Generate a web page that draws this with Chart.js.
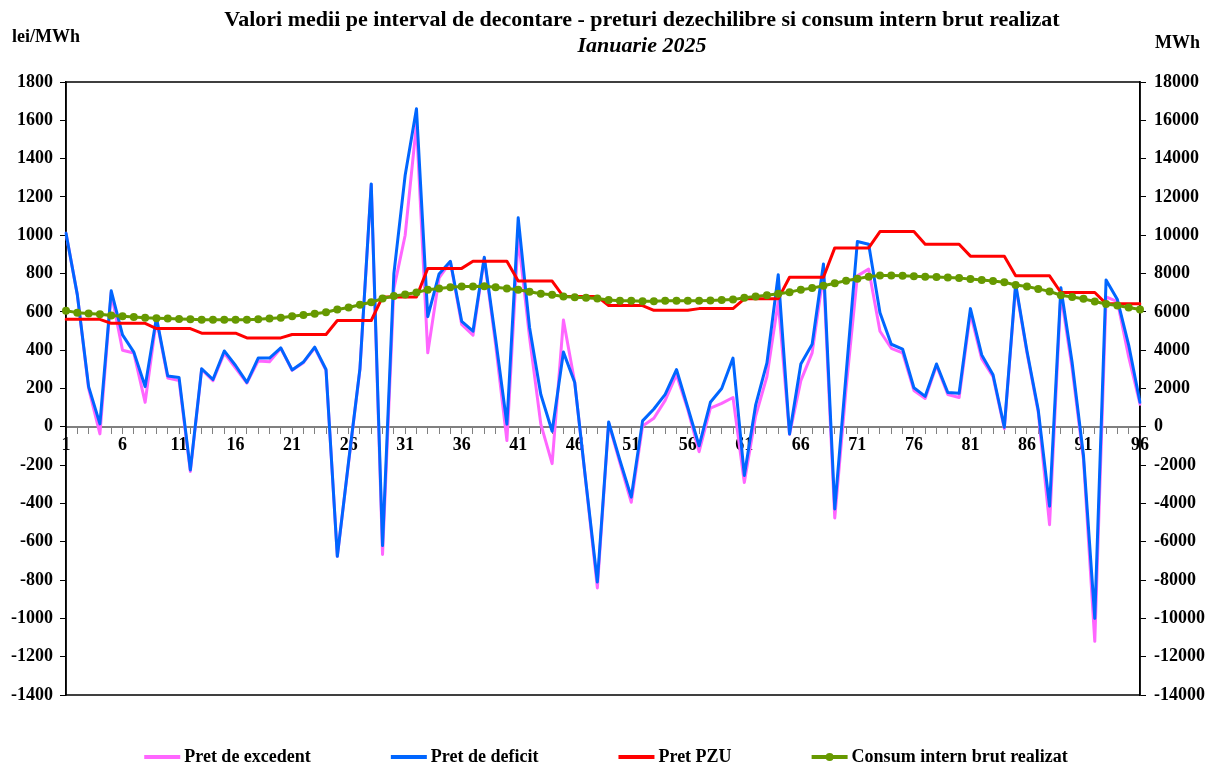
<!DOCTYPE html>
<html>
<head>
<meta charset="utf-8">
<title>Valori medii pe interval de decontare</title>
<script src="https://cdn.jsdelivr.net/npm/chart.js@4.4.1/dist/chart.umd.min.js"></script>
<style>
  html, body { margin: 0; padding: 0; background: #fff; }
  #wrap { width: 1212px; height: 766px; position: relative; }
</style>
</head>
<body>
<div id="wrap"><canvas id="chart_dezechilibre"></canvas></div>
<script>
'use strict';

// intervale de decontare (15 min)
var intervale = ['1','2','3','4','5','6','7','8','9','10','11','12','13','14','15','16',
    '17','18','19','20','21','22','23','24','25','26','27','28','29','30','31','32',
    '33','34','35','36','37','38','39','40','41','42','43','44','45','46','47','48',
    '49','50','51','52','53','54','55','56','57','58','59','60','61','62','63','64',
    '65','66','67','68','69','70','71','72','73','74','75','76','77','78','79','80',
    '81','82','83','84','85','86','87','88','89','90','91','92','93','94','95','96'];

// lei/MWh
var pret_excedent = [1010, 690, 200, -37, 700, 400, 385, 128, 560, 255, 241, -233, 300, 241, 385, 307,
    228, 344, 340, 410, 295, 335, 412, 295, -676, -185, 300, 1265, -666, 720, 1000, 1580,
    386, 777, 860, 534, 478, 880, 430, -72, 990, 468, 14, -192, 557, 231, -300, -841,
    20, -190, -394, 4, 45, 138, 272, 90, -130, 97, 122, 153, -291, 56, 262, 654,
    -40, 241, 386, 800, -476, 200, 788, 823, 499, 410, 386, 190, 148, 320, 169, 153,
    592, 355, 262, -10, 736, 386, 76, -511, 695, 303, -170, -1120, 678, 654, 365, 118];

var pret_deficit = [1010, 690, 210, 15, 710, 480, 390, 210, 570, 265, 258, -225, 303, 247, 396, 320,
    232, 359, 359, 412, 297, 338, 416, 299, -676, -180, 303, 1268, -620, 798, 1313, 1660,
    575, 798, 864, 551, 499, 885, 460, 14, 1091, 520, 169, -23, 390, 231, -295, -810,
    25, -175, -367, 31, 93, 169, 299, 101, -99, 128, 200, 359, -254, 113, 334, 794,
    -37, 328, 431, 850, -429, 272, 967, 953, 596, 431, 406, 204, 159, 328, 179, 175,
    617, 375, 272, -2, 746, 396, 87, -414, 726, 334, -150, -1000, 767, 664, 427, 128];

var pret_pzu = [561, 561, 561, 561, 540, 540, 540, 540, 513, 513, 513, 513, 489, 489, 489, 489,
    464, 464, 464, 464, 482, 482, 482, 482, 555, 555, 555, 555, 678, 678, 678, 678,
    827, 827, 827, 827, 864, 864, 864, 864, 761, 761, 761, 761, 680, 680, 680, 680,
    633, 633, 633, 633, 608, 608, 608, 608, 617, 617, 617, 617, 668, 668, 668, 668,
    781, 781, 781, 781, 934, 934, 934, 934, 1019, 1019, 1019, 1019, 953, 953, 953, 953,
    891, 891, 891, 891, 788, 788, 788, 788, 701, 701, 701, 701, 643, 643, 643, 643];

// MWh
var consum = [6060, 5960, 5920, 5880, 5810, 5770, 5730, 5690, 5670, 5650, 5630, 5610, 5590, 5590, 5590, 5590,
    5590, 5610, 5650, 5690, 5770, 5840, 5900, 5980, 6120, 6230, 6370, 6500, 6700, 6830, 6910, 7010,
    7160, 7220, 7280, 7320, 7320, 7340, 7280, 7220, 7160, 7050, 6950, 6890, 6800, 6760, 6740, 6700,
    6620, 6580, 6580, 6560, 6560, 6580, 6580, 6580, 6580, 6600, 6620, 6640, 6740, 6800, 6870, 6950,
    7030, 7160, 7240, 7360, 7490, 7630, 7730, 7840, 7900, 7900, 7880, 7860, 7840, 7820, 7800, 7770,
    7710, 7670, 7610, 7550, 7400, 7320, 7200, 7070, 6870, 6780, 6680, 6540, 6410, 6330, 6230, 6120];

var ticks_lei = [-1400, -1200, -1000, -800, -600, -400, -200, 0, 200, 400, 600, 800, 1000, 1200, 1400, 1600, 1800];
var ticks_mwh = [-14000, -12000, -10000, -8000, -6000, -4000, -2000, 0, 2000, 4000, 6000, 8000, 10000, 12000, 14000, 16000, 18000];

var titlu = ['Valori medii pe interval de decontare - preturi dezechilibre si consum intern brut realizat', 'Ianuarie 2025'];

var FONT = '"Liberation Serif", "Times New Roman", serif';

// titlu + unitati
var titluPlugin = {
    id: 'titlu',
    afterDraw: function (chart) {
        var ctx = chart.ctx;
        ctx.save();
        ctx.fillStyle = '#000';
        ctx.textBaseline = 'middle';
        ctx.textAlign = 'center';
        ctx.font = 'bold 22px ' + FONT;
        ctx.fillText(titlu[0], 642, 20);
        ctx.font = 'italic bold 22px ' + FONT;
        ctx.fillText(titlu[1], 642, 46);
        ctx.font = 'bold 18px ' + FONT;
        ctx.textAlign = 'left';
        ctx.fillText('lei/MWh', 12, 37);
        ctx.fillText('MWh', 1155, 43);
        ctx.restore();
    }
};

// chenarul zonei de desenare
var chenarPlugin = {
    id: 'chenar',
    beforeDatasetsDraw: function (chart) {
        var a = chart.chartArea;
        var ctx = chart.ctx;
        ctx.save();
        ctx.strokeStyle = '#000';
        ctx.lineWidth = 1.5;
        ctx.strokeRect(a.left, a.top, a.right - a.left, a.bottom - a.top);
        ctx.restore();
    }
};

// legenda jos, ca in Excel
var legendaPlugin = {
    id: 'legenda',
    afterDraw: function (chart) {
        var ctx = chart.ctx;
        var ds = chart.data.datasets;
        var lineLen = 36, gap = 4, itemGap = 80, y = 757;
        ctx.save();
        ctx.font = 'bold 18px ' + FONT;
        ctx.textBaseline = 'middle';
        var widths = ds.map(function (d) { return lineLen + gap + ctx.measureText(d.label).width; });
        var total = widths.reduce(function (s, w) { return s + w; }, 0) + itemGap * (ds.length - 1);
        var x = (chart.width - total) / 2;
        ds.forEach(function (d, i) {
            ctx.strokeStyle = d.borderColor;
            ctx.lineWidth = 4;
            ctx.beginPath();
            ctx.moveTo(x, y);
            ctx.lineTo(x + lineLen, y);
            ctx.stroke();
            if (d.pointRadius > 0) {
                ctx.fillStyle = d.backgroundColor;
                ctx.beginPath();
                ctx.arc(x + lineLen / 2, y, 4, 0, Math.PI * 2);
                ctx.fill();
            }
            ctx.fillStyle = '#000';
            ctx.fillText(d.label, x + lineLen + gap, y);
            x += widths[i] + itemGap;
        });
        ctx.restore();
    }
};

function plain(v) { return String(v); }

function draw_chart() {
    var canvas = document.getElementById('chart_dezechilibre');
    var ctx = canvas.getContext('2d');
    return new Chart(ctx, {
        type: 'line',
        data: {
            labels: intervale,
            datasets: [{
                label: 'Pret de excedent',
                data: pret_excedent,
                borderColor: '#FF66FF',
                backgroundColor: '#FF66FF',
                borderWidth: 3,
                pointRadius: 0,
                yAxisID: 'y',
                order: 4
            }, {
                label: 'Pret de deficit',
                data: pret_deficit,
                borderColor: '#0066FF',
                backgroundColor: '#0066FF',
                borderWidth: 3,
                pointRadius: 0,
                yAxisID: 'y',
                order: 3
            }, {
                label: 'Pret PZU',
                data: pret_pzu,
                borderColor: '#FF0000',
                backgroundColor: '#FF0000',
                borderWidth: 3,
                pointRadius: 0,
                yAxisID: 'y',
                order: 2
            }, {
                label: 'Consum intern brut realizat',
                data: consum,
                borderColor: '#669900',
                backgroundColor: '#669900',
                borderWidth: 3,
                pointRadius: 4,
                pointBorderWidth: 0,
                yAxisID: 'y1',
                order: 1
            }]
        },
        options: {
            responsive: true,
            maintainAspectRatio: false,
            animation: false,
            elements: {
                line: { tension: 0, borderJoinStyle: 'round', borderCapStyle: 'round' }
            },
            layout: { padding: { top: 82, bottom: 71, left: 0, right: 0 } },
            plugins: {
                legend: { display: false },
                title: { display: false },
                tooltip: { enabled: false }
            },
            scales: {
                x: {
                    type: 'category',
                    position: { y: 0 },
                    offset: false,
                    grid: { display: true, drawOnChartArea: false, drawTicks: true, tickLength: 6, color: '#808080' },
                    border: { display: true, color: '#808080', width: 2 },
                    ticks: {
                        autoSkip: false,
                        maxRotation: 0,
                        padding: 2,
                        color: '#000',
                        font: { family: FONT, size: 18, weight: 'bold' },
                        callback: function (val, index) {
                            return index % 5 === 0 ? intervale[index] : '';
                        }
                    }
                },
                y: {
                    position: 'left',
                    min: -1400,
                    max: 1800,
                    afterBuildTicks: function (scale) {
                        scale.ticks = ticks_lei.map(function (v) { return { value: v }; });
                    },
                    afterFit: function (scale) { scale.width = 66; },
                    grid: { display: true, drawOnChartArea: false, drawTicks: true, tickLength: 6, color: '#000' },
                    border: { display: true, color: '#000', width: 1.5 },
                    ticks: {
                        padding: 7,
                        color: '#000',
                        font: { family: FONT, size: 18, weight: 'bold' },
                        callback: plain
                    }
                },
                y1: {
                    position: 'right',
                    min: -14000,
                    max: 18000,
                    afterBuildTicks: function (scale) {
                        scale.ticks = ticks_mwh.map(function (v) { return { value: v }; });
                    },
                    afterFit: function (scale) { scale.width = 72; },
                    grid: { display: true, drawOnChartArea: false, drawTicks: true, tickLength: 6, color: '#000' },
                    border: { display: true, color: '#000', width: 1.5 },
                    ticks: {
                        padding: 8,
                        color: '#000',
                        font: { family: FONT, size: 18, weight: 'bold' },
                        callback: plain
                    }
                }
            }
        },
        plugins: [chenarPlugin, titluPlugin, legendaPlugin]
    });
}

var myChart = draw_chart();
</script>
</body>
</html>
